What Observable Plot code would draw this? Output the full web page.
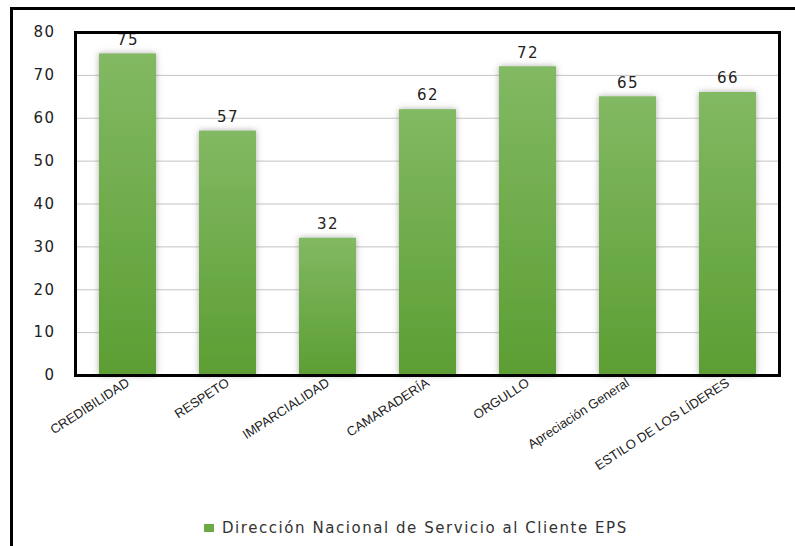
<!DOCTYPE html>
<html>
<head>
<meta charset="utf-8">
<script src="https://cdn.jsdelivr.net/npm/d3@7"></script>
<script src="https://cdn.jsdelivr.net/npm/@observablehq/plot@0.6"></script>
<style>
  html, body { margin: 0; padding: 0; background: #fff; overflow: hidden; width: 795px; height: 546px; }
  #page { position: relative; width: 795px; height: 546px; overflow: hidden; }
  #outer { position: absolute; left: 10px; top: 7px; width: 830px; height: 600px; border: 3px solid #000; box-sizing: border-box; }
  #chart { position: absolute; left: 0; top: 0; }
  #legend { position: absolute; left: 204px; top: 519px; font-family: "DejaVu Sans", sans-serif; font-size: 15px; letter-spacing: 1.55px; color: #333; display: flex; align-items: center; white-space: nowrap; }
  #legend .sw { width: 10px; height: 8px; background: #6aab45; margin-right: 8px; }
  #chart svg g[aria-label="y-axis tick label"] text, #chart svg g[aria-label="text"] text { letter-spacing: 1.4px; }
</style>
</head>
<body>
<div id="page">
  <div id="outer"></div>
  <div id="chart"></div>
  <div id="legend"></div>
</div>
<script>
const categories = ["CREDIBILIDAD", "RESPETO", "IMPARCIALIDAD", "CAMARADERÍA", "ORGULLO", "Apreciación General", "ESTILO DE LOS LÍDERES"];
const values = [75, 57, 32, 62, 72, 65, 66];
const seriesName = "Dirección Nacional de Servicio al Cliente EPS";
const yTicks = [0, 10, 20, 30, 40, 50, 60, 70, 80];

const data = categories.map((c, i) => ({category: c, value: values[i]}));

const plot = Plot.plot({
  width: 795,
  height: 510,
  marginLeft: 75,
  marginRight: 16,
  marginTop: 32,
  marginBottom: 135,
  style: {background: "transparent", overflow: "visible"},
  x: {domain: categories, paddingInner: 0.43, paddingOuter: 0.215, label: null},
  y: {domain: [0, 80], ticks: yTicks, label: null},
  marks: [
    Plot.gridY(yTicks, {stroke: "#c4c4c4", strokeOpacity: 1, strokeWidth: 1}),
    Plot.barY(data, {x: "category", y: "value", fill: "url(#barGrad)"}),
    Plot.text(data, {x: "category", y: "value", text: d => String(d.value), dy: -14, fontSize: 15, fill: "#222", fontFamily: "DejaVu Sans"}),
    Plot.axisY({ticks: yTicks, tickSize: 0, tickPadding: 20, fontSize: 15, fontFamily: "DejaVu Sans", fill: "#222", label: null}),
    Plot.axisX({tickSize: 0, tickPadding: 6, tickRotate: -33, fontSize: 13, fontFamily: "Liberation Sans", fill: "#222", label: null}),
    Plot.frame({stroke: "#000", strokeWidth: 3})
  ]
});

const svg = d3.select(plot);
const defs = svg.insert("defs", ":first-child");
const grad = defs.append("linearGradient").attr("id", "barGrad").attr("x1", 0).attr("y1", 0).attr("x2", 0).attr("y2", 1);
grad.append("stop").attr("offset", "0%").attr("stop-color", "#82b963");
grad.append("stop").attr("offset", "100%").attr("stop-color", "#5c9e33");
const filt = defs.append("filter").attr("id", "shadow").attr("x", "-30%").attr("y", "-10%").attr("width", "160%").attr("height", "120%");
filt.append("feDropShadow").attr("dx", 0).attr("dy", 0).attr("stdDeviation", 3).attr("flood-color", "#777").attr("flood-opacity", 0.6);
svg.select("g[aria-label=bar]").attr("filter", "url(#shadow)");

document.getElementById("chart").appendChild(plot);

const legend = document.getElementById("legend");
const sw = document.createElement("div");
sw.className = "sw";
legend.appendChild(sw);
const lt = document.createElement("span");
lt.textContent = seriesName;
legend.appendChild(lt);
</script>
</body>
</html>
